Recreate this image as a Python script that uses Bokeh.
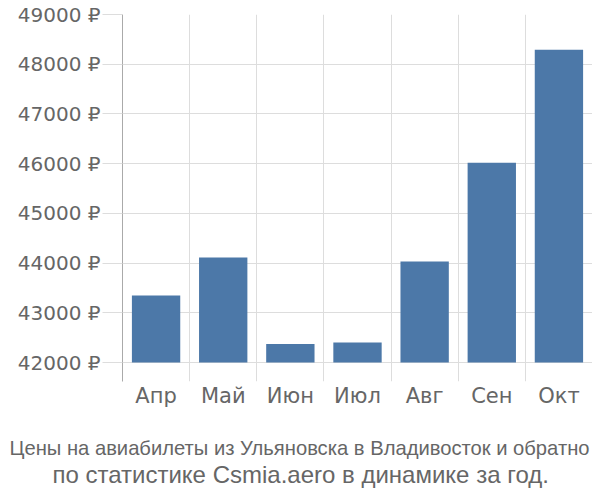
from bokeh.plotting import figure
from bokeh.models import ColumnDataSource, FixedTicker, Range1d, PrintfTickFormatter, Title
from bokeh.embed import file_html
from bokeh.resources import INLINE

months = ["Апр", "Май", "Июн", "Июл", "Авг", "Сен", "Окт"]
prices = [43350, 44110, 42370, 42400, 44030, 46020, 48290]
y_ticks = [42000, 43000, 44000, 45000, 46000, 47000, 48000, 49000]
base_value = 42000
title_line1 = "Цены на авиабилеты из Ульяновска в Владивосток и обратно"
title_line2 = "по статистике Csmia.aero в динамике за год."

xs = [i + 0.5 for i in range(len(months))]
src = ColumnDataSource(dict(x=xs, top=prices, bottom=[base_value] * len(prices)))

p = figure(width=592, height=492, output_backend="svg", toolbar_location=None,
           x_range=Range1d(0, len(months)), y_range=Range1d(41618, 49000),
           min_border_left=122, min_border_right=0, min_border_top=14, min_border_bottom=111)
p.outline_line_color = None

p.vbar(x="x", top="top", bottom="bottom", width=0.72, source=src,
       fill_color="#4c78a8", line_color=None)

# grids
p.xgrid.ticker = FixedTicker(ticks=list(range(len(months) + 1)))
p.ygrid.ticker = FixedTicker(ticks=y_ticks)
p.xgrid.grid_line_color = "#dddddd"
p.ygrid.grid_line_color = "#dddddd"

# y axis
ya = p.yaxis[0]
ya.ticker = FixedTicker(ticks=y_ticks)
ya.formatter = PrintfTickFormatter(format="%d ₽")
ya.minor_tick_line_color = None
ya.major_tick_in = 0
ya.major_tick_out = 20
ya.major_tick_line_color = "#dddddd"
ya.axis_line_color = "#aaaaaa"
ya.major_label_text_font = "DejaVu Sans"
ya.major_label_text_font_size = "20px"
ya.major_label_text_color = "#666666"
ya.major_label_standoff = 2

# x axis
xa = p.xaxis[0]
xa.ticker = FixedTicker(ticks=xs)
xa.major_label_overrides = {x: m for x, m in zip(xs, months)}
xa.axis_line_color = None
xa.major_tick_line_color = None
xa.minor_tick_line_color = None
xa.major_tick_out = 0
xa.major_tick_in = 0
xa.major_label_text_font = "DejaVu Sans"
xa.major_label_text_font_size = "21px"
xa.major_label_text_color = "#666666"
xa.major_label_standoff = 2

# two-line caption below the chart (first panel is an empty spacer)
spacer = Title(text=" ", standoff=21, text_font_size="1px")
t1 = Title(text=title_line1, align="left", offset=-113, standoff=0,
           text_font="Liberation Sans", text_font_size="20.2px",
           text_color="#666666", text_font_style="normal")
t2 = Title(text=title_line2, align="left", offset=-70, standoff=0,
           text_font="Liberation Sans", text_font_size="24px",
           text_color="#666666", text_font_style="normal")
p.add_layout(spacer, "below")
p.add_layout(t1, "below")
p.add_layout(t2, "below")

open("out.html", "w").write(file_html(p, INLINE))
